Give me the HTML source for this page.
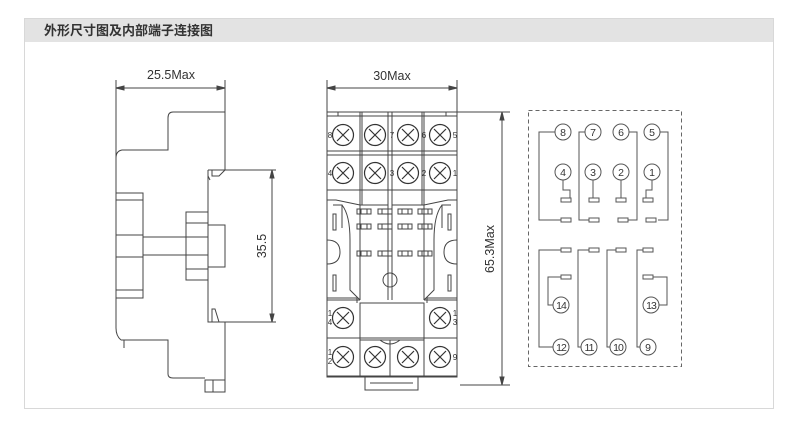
<!DOCTYPE html>
<html><head><meta charset="utf-8"><style>
html,body{margin:0;padding:0;background:#fff;}
svg{display:block;}
text{font-family:"Liberation Sans",sans-serif;fill:#333;}
</style></head><body>
<svg width="788" height="429" viewBox="0 0 788 429" xmlns="http://www.w3.org/2000/svg">
<defs><g id="sc"><circle cx="0" cy="0" r="10.5"/><path d="M-6 -6L6 6M6 -6L-6 6"/></g>
<g id="sl"><rect x="0" y="0" width="14" height="5"/><path d="M4 0V5M10 0V5"/></g></defs>
<rect x="24.5" y="18.5" width="749" height="390" fill="#fff" stroke="#d8d8d8"/>
<rect x="25" y="19" width="748" height="23" fill="#e3e3e3"/>
<text x="44" y="35" font-size="13" font-weight="bold" style='font-family:"Liberation Sans","Noto Sans CJK SC",sans-serif' fill="#222">外形尺寸图及内部端子连接图</text>

<g fill="none" stroke="#444" stroke-width="1">
<!-- side view -->
<path d="M116 80V328Q116 336 121 340"/>
<path d="M225 80V170"/>
<path d="M116 88H225"/>
<path d="M116 88l8 -2v4z M225 88l-8 -2v4z" fill="#444"/>
<path d="M225 112H173Q168 112 168 118V150H122Q116 151 116 158"/>
<path d="M208 170H225 M208 170V322H225 M225 322V392 M205 380H225V392H205Z M213 380V392"/>
<path d="M212 170V176H219L225 170 M212 322V309H215L219 322"/>
<path d="M208 176L210 180"/>
<path d="M121 340H168V374Q168 378 173 378H205"/>
<path d="M124 340V348"/>
<rect x="116" y="193" width="27" height="105"/>
<path d="M116 200H143M116 235H143M116 257H143M116 290H143"/>
<path d="M143 237H208M143 255H208"/>
<rect x="186" y="212" width="22" height="68"/>
<rect x="208" y="225" width="17" height="42"/>
<path d="M186 223H208M186 269H208"/>
<path d="M225 170H276M225 322H276M272 170V322"/>
<path d="M272 170l-2 8h4z M272 322l-2 -8h4z" fill="#444"/>

<!-- front view -->
<path d="M327 80V112M457 80V112M327 88H457"/>
<path d="M327 88l8 -2v4z M457 88l-8 -2v4z" fill="#444"/>
<path d="M457 112H510M460 385H510M502 112V385"/>
<path d="M502 112l-2 8h4z M502 385l-2 -8h4z" fill="#444"/>
<rect x="327" y="112" width="130" height="265"/>
<path d="M360 112V205M362 112V205M388 112V300M392 112V300M422 112V205M424 112V205"/>
<path d="M327 116H457M327 151H457M327 155H457M327 190H457"/>
<path d="M338 112V116M446 112V116"/>
<path d="M327 190V200H336L360 205H388M457 190V200H448L424 205H392"/>
<path d="M333 205H342V228M451 205H442V228"/>
<path d="M342 205Q350 215 350 240V290L360 300M442 205Q434 215 434 240V290L424 300"/>
<path d="M360 205V300M424 205V300"/>
<path d="M327 240Q340 240 340 252Q340 264 327 264M457 240Q444 240 444 252Q444 264 457 264"/>
<rect x="333" y="214" width="3" height="16"/><rect x="448" y="214" width="3" height="16"/>
<rect x="333" y="275" width="3" height="16"/><rect x="448" y="275" width="3" height="16"/>
<use href="#sl" x="357" y="209"/><use href="#sl" x="378" y="209"/><use href="#sl" x="398" y="209"/><use href="#sl" x="418" y="209"/>
<use href="#sl" x="357" y="224"/><use href="#sl" x="378" y="224"/><use href="#sl" x="398" y="224"/><use href="#sl" x="418" y="224"/>
<use href="#sl" x="357" y="251"/><use href="#sl" x="378" y="251"/><use href="#sl" x="398" y="251"/><use href="#sl" x="418" y="251"/>
<circle cx="390" cy="280" r="7"/>
<path d="M327 298H357V303M457 298H427V303"/>
<rect x="360" y="303" width="64" height="37"/>
<path d="M327 300H360M424 300H457M327 338H457M327 376H457M360 340V376M390 340V376M424 340V376"/>
<path d="M380 340Q390 348 400 340"/>
<path d="M365 377V390H418V377M370 383H413"/>
</g>
<g fill="none" stroke="#333" stroke-width="1.2">
<use href="#sc" x="343" y="135"/><use href="#sc" x="375" y="135"/><use href="#sc" x="408" y="135"/><use href="#sc" x="440" y="135"/>
<use href="#sc" x="343" y="173"/><use href="#sc" x="375" y="173"/><use href="#sc" x="408" y="173"/><use href="#sc" x="440" y="173"/>
<use href="#sc" x="343" y="318"/><use href="#sc" x="440" y="318"/>
<use href="#sc" x="343" y="357"/><use href="#sc" x="375" y="357"/><use href="#sc" x="408" y="357"/><use href="#sc" x="440" y="357"/>
</g>
<g font-size="8" text-anchor="middle">
<text x="330" y="138">8</text><text x="392" y="138">7</text><text x="424" y="138">6</text><text x="455" y="138">5</text>
<text x="330" y="176">4</text><text x="392" y="176">3</text><text x="424" y="176">2</text><text x="455" y="176">1</text>
<text x="330" y="316">1</text><text x="330" y="325">4</text><text x="455" y="316">1</text><text x="455" y="325">3</text>
<text x="330" y="355">1</text><text x="330" y="364">2</text><text x="455" y="360">9</text>
</g>
<g font-size="12.5" text-anchor="middle" fill="#333">
<text x="171" y="79">25.5Max</text>
<text x="392" y="80">30Max</text>
<text transform="translate(266,246) rotate(-90)">35.5</text>
<text transform="translate(494,249) rotate(-90)">65.3Max</text>
</g>

<!-- schematic -->
<rect x="528.5" y="110.5" width="153" height="256" fill="none" stroke="#666" stroke-dasharray="4,3"/>
<g fill="none" stroke="#555" stroke-width="1">
<path d="M555 132H539V220H561M585 132H579V220H589M629 132H637V220H628M660 132H668V220H658"/>
<path d="M563 180V190H570V198M593 180V198M621 180V198M652 180V190H646V198"/>
<path d="M553 347H539V250H561M553 305H548V277H561M581 347H578V250H589M610 347H607V250H616M640 347H637V250H643M659 305H667V277H653"/>
<g fill="#fff">
<rect x="561" y="198" width="10" height="4"/><rect x="589" y="198" width="10" height="4"/><rect x="616" y="198" width="10" height="4"/><rect x="643" y="198" width="10" height="4"/>
<rect x="561" y="218" width="10" height="4"/><rect x="589" y="218" width="10" height="4"/><rect x="618" y="218" width="10" height="4"/><rect x="646" y="218" width="10" height="4"/>
<rect x="561" y="248" width="10" height="4"/><rect x="589" y="248" width="10" height="4"/><rect x="616" y="248" width="10" height="4"/><rect x="643" y="248" width="10" height="4"/>
<rect x="561" y="275" width="10" height="4"/><rect x="643" y="275" width="10" height="4"/>
<circle cx="563" cy="132" r="8"/><circle cx="593" cy="132" r="8"/><circle cx="621" cy="132" r="8"/><circle cx="652" cy="132" r="8"/>
<circle cx="563" cy="172" r="8"/><circle cx="593" cy="172" r="8"/><circle cx="621" cy="172" r="8"/><circle cx="652" cy="172" r="8"/>
<circle cx="561" cy="305" r="8"/><circle cx="651" cy="305" r="8"/>
<circle cx="561" cy="347" r="8"/><circle cx="589" cy="347" r="8"/><circle cx="618" cy="347" r="8"/><circle cx="648" cy="347" r="8"/>
</g></g>
<g font-size="10.5" text-anchor="middle" fill="#222">
<text x="563" y="136">8</text><text x="593" y="136">7</text><text x="621" y="136">6</text><text x="652" y="136">5</text>
<text x="563" y="176">4</text><text x="593" y="176">3</text><text x="621" y="176">2</text><text x="652" y="176">1</text>
<text x="561" y="309" letter-spacing="-1">14</text><text x="651" y="309" letter-spacing="-1">13</text>
<text x="561" y="351" letter-spacing="-1">12</text><text x="589" y="351" letter-spacing="-1">11</text><text x="618" y="351" letter-spacing="-1">10</text><text x="648" y="351">9</text>
</g>
</svg>
</body></html>
